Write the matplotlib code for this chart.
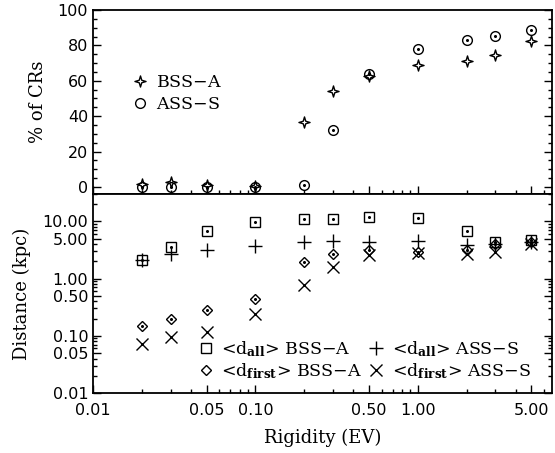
import numpy as np
import matplotlib
matplotlib.use("Agg")
import matplotlib.pyplot as plt
from matplotlib.path import Path
from matplotlib.ticker import FixedLocator, FormatStrFormatter, MultipleLocator

plt.rcParams["font.family"] = "DejaVu Serif"
plt.rcParams["mathtext.fontset"] = "dejavuserif"

# rigidity values (EV)
rigidity = [0.02, 0.03, 0.05, 0.1, 0.2, 0.3, 0.5, 1.0, 2.0, 3.0, 5.0]

# percentage of CRs
pct_bss = [1.5, 3.0, 1.0, 0.5, 36.7, 54.0, 62.5, 69.0, 71.4, 74.5, 82.5]
pct_ass = [0.0, 0.0, 0.0, 0.0, 1.0, 32.0, 64.0, 78.0, 83.0, 85.5, 88.5]

# mean distances (kpc)
dall_bss = [2.08, 3.6, 6.67, 9.7, 11.0, 11.1, 11.9, 11.3, 6.75, 4.27, 4.76]
dall_ass = [2.08, 2.66, 3.13, 3.68, 4.38, 4.57, 4.38, 4.44, 3.88, 3.99, 4.27]
dfirst_bss = [0.147, 0.193, 0.278, 0.446, 1.97, 2.73, 3.13, 2.96, 3.16, 3.99, 4.27]
dfirst_ass = [0.071, 0.094, 0.115, 0.239, 0.776, 1.59, 2.55, 2.77, 2.66, 2.96, 3.99]

x_major = [0.01, 0.05, 0.1, 0.5, 1.0, 5.0]
y_major = [0.01, 0.05, 0.1, 0.5, 1.0, 5.0, 10.0]

# small 4-pointed star marker (outer/inner radius)
ang = np.arange(8) * np.pi / 4 + np.pi / 2
rad = np.where(np.arange(8) % 2 == 0, 1.0, 0.32)
verts = np.column_stack([rad * np.cos(ang), rad * np.sin(ang)])
verts = np.vstack([verts, verts[:1]])
star4 = Path(verts, [Path.MOVETO] + [Path.LINETO] * 7 + [Path.CLOSEPOLY])

fig = plt.figure(figsize=(5.55, 4.53), dpi=100)
ax1 = fig.add_axes([0.1676, 0.5717, 0.8270, 0.4063])
ax2 = fig.add_axes([0.1676, 0.1325, 0.8270, 0.4392])


def style_axis(ax):
    for sp in ax.spines.values():
        sp.set_linewidth(1.3)
    ax.tick_params(which="both", direction="in", top=False, right=True,
                   width=1.0, labelsize=11.5)
    ax.tick_params(which="major", length=6)
    ax.tick_params(which="minor", length=3)
    ax.tick_params(axis="x", pad=7)
    for lab in ax.get_xticklabels() + ax.get_yticklabels():
        lab.set_fontfamily("DejaVu Sans")


mk = dict(linestyle="none", color="black", markerfacecolor="none",
          markeredgecolor="black", markeredgewidth=1.0)
dot = dict(linestyle="none", marker="o", markersize=1.2, color="black")

# top panel
ax1.plot(rigidity, pct_bss, marker=star4, markersize=8, label="BSS$-$A", **mk)
ax1.plot(rigidity, pct_ass, marker="o", markersize=7, label="ASS$-$S", **mk)
ax1.plot(rigidity, pct_ass, **dot)
ax1.set_xscale("log")
ax1.set_xlim(0.01, 6.7)
ax1.set_ylim(-4, 100)
ax1.yaxis.set_major_locator(MultipleLocator(20))
ax1.yaxis.set_minor_locator(MultipleLocator(5))
ax1.xaxis.set_major_locator(FixedLocator(x_major))
ax1.set_xticklabels([])
ax1.set_ylabel("% of CRs", fontsize=13, labelpad=8)
style_axis(ax1)
ax1.legend(loc="upper left", bbox_to_anchor=(0.056, 0.72), frameon=False,
           fontsize=12.5, handletextpad=0.45, labelspacing=0.3,
           handlelength=1.0, borderpad=0.2)

# bottom panel
ax2.plot(rigidity, dall_bss, marker="s", markersize=7.5,
         label=r"<d$_{\mathbf{all}}$> BSS$-$A", **mk)
ax2.plot(rigidity, dfirst_bss, marker="D", markersize=5.5,
         label=r"<d$_{\mathbf{first}}$> BSS$-$A", **mk)
ax2.plot(rigidity, dall_ass, marker="+", markersize=10,
         label=r"<d$_{\mathbf{all}}$> ASS$-$S", **mk)
ax2.plot(rigidity, dfirst_ass, marker="x", markersize=8,
         label=r"<d$_{\mathbf{first}}$> ASS$-$S", **mk)
ax2.plot(rigidity, dall_bss, **dot)
ax2.plot(rigidity, dfirst_bss, **dot)
ax2.set_xscale("log")
ax2.set_yscale("log")
ax2.set_xlim(0.01, 6.7)
ax2.set_ylim(0.01, 30)
ax2.xaxis.set_major_locator(FixedLocator(x_major))
ax2.xaxis.set_major_formatter(FormatStrFormatter("%.2f"))
ax2.yaxis.set_major_locator(FixedLocator(y_major))
ax2.yaxis.set_major_formatter(FormatStrFormatter("%.2f"))
ax2.set_xlabel("Rigidity (EV)", fontsize=13, labelpad=8)
ax2.set_ylabel("Distance (kpc)", fontsize=13, labelpad=8)
style_axis(ax2)
ax2.legend(loc="lower left", bbox_to_anchor=(0.2, 0.0), ncol=2,
           frameon=False, fontsize=12.5, handletextpad=0.4, labelspacing=0.15,
           columnspacing=0.3, handlelength=1.0, borderpad=0.2)

fig.savefig("out.png", dpi=100)
